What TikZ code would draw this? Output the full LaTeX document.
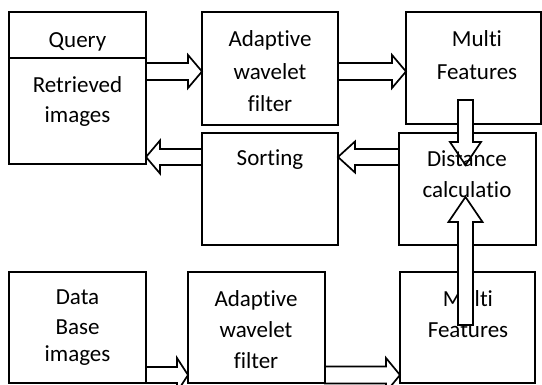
\documentclass[tikz,border=0pt]{standalone}
\usepackage{fontspec}
\setmainfont{Carlito}[Ligatures={NoCommon,NoRequired,NoContextual}]
\usetikzlibrary{calc}
\tikzset{
  box/.style={draw=black, fill=white, line width=1.7pt, rectangle, inner sep=0pt, outer sep=0pt, anchor=north west},
  txt/.style={anchor=base, inner sep=0pt, font=\fontsize{23pt}{28pt}\selectfont},
  arrowshape/.style={draw=black, fill=white, line width=1.7pt, line join=miter}
}
% #1 start, #2 tip, #3 shaft half width, #4 head half width, #5 head length
\newcommand\blockarr[5]{%
  \path coordinate (hb) at ($(#2)!#5!(#1)$);
  \draw[arrowshape] ($(#1)!#3!90:(#2)$) -- ($(hb)!#3!90:(#2)$) -- ($(hb)!#4!90:(#2)$) -- (#2)
    -- ($(hb)!#4!-90:(#2)$) -- ($(hb)!#3!-90:(#2)$) -- ($(#1)!#3!-90:(#2)$) -- cycle;
}
\begin{document}
\begin{tikzpicture}[x=1pt,y=-1pt]
\useasboundingbox (0,0) rectangle (542,385);
\clip (0,0) rectangle (542,385);
% boxes
\node[box, minimum width=137pt, minimum height=152pt] (q) at (9,12) {};
\node[box, minimum width=136pt, minimum height=113pt] (aw1) at (202,12) {};
\node[box, minimum width=135pt, minimum height=112pt] (mf1) at (406,12) {};
\node[box, minimum width=136pt, minimum height=112pt] (so) at (202,133) {};
\node[box, minimum width=137pt, minimum height=112pt] (dc) at (399,133) {};
\node[box, minimum width=137pt, minimum height=111pt] (db) at (9,272) {};
\node[box, minimum width=137pt, minimum height=111pt] (aw2) at (188,272) {};
\node[box, minimum width=135pt, minimum height=111pt] (mf2) at (400,272) {};
\coordinate (qdl) at (9,58);
\coordinate (qdr) at (146,58);
\draw[line width=1.7pt] (qdl) -- (qdr);
% texts
\node[txt] (t1) at (77.5,48) {Query};
\node[txt] (t2) at (77.5,93) {Retrieved};
\node[txt] (t3) at (77.5,123) {images};
\node[txt] (t4) at (270,47) {Adaptive};
\node[txt] (t5) at (270,80) {wavelet};
\node[txt] (t6) at (270,112) {filter};
\node[txt] (t7) at (477,47) {Multi};
\node[txt] (t8) at (477,80) {Features};
\node[txt] (t9) at (270,166) {Sorting};
\node[txt] (t13) at (77.5,305) {Data};
\node[txt] (t14) at (77.5,335) {Base};
\node[txt] (t15) at (77.5,362) {images};
\node[txt] (t16) at (256,307) {Adaptive};
\node[txt] (t17) at (256,338) {wavelet};
\node[txt] (t18) at (256,369) {filter};
\node[txt] (t19) at (468,307) {Multi};
\node[txt] (t20) at (468,338) {Features};
% arrow guides
\coordinate (y1) at (0,71.5);
\coordinate (y2) at (0,157);
\coordinate (y3) at (0,375);
\coordinate (a3s) at (465.5,100);
\coordinate (a3e) at (465.5,165);
\coordinate (a6s) at (465.5,325);
\coordinate (a6e) at (465.5,197);
\coordinate (a1s) at (q.east |- y1);
\coordinate (a1e) at (aw1.west |- y1);
\coordinate (a2s) at (aw1.east |- y1);
\coordinate (a2e) at (mf1.west |- y1);
\coordinate (a4s) at (dc.west |- y2);
\coordinate (a4e) at (so.east |- y2);
\coordinate (a5s) at (so.west |- y2);
\coordinate (a5e) at (q.east |- y2);
\coordinate (a7s) at (db.east |- y3);
\coordinate (a7e) at (aw2.west |- y3);
\coordinate (a8s) at (aw2.east |- y3);
\coordinate (a8e) at (mf2.west |- y3);
% arrows
\blockarr{a1s}{a1e}{8.5pt}{16.5pt}{14pt}
\blockarr{a2s}{a2e}{8.5pt}{16.5pt}{14pt}
\blockarr{a4s}{a4e}{8pt}{15.5pt}{17pt}
\blockarr{a5s}{a5e}{8pt}{16.5pt}{14pt}
\blockarr{a7s}{a7e}{8pt}{17pt}{11pt}
\blockarr{a8s}{a8e}{8.5pt}{17pt}{14pt}
\blockarr{a3s}{a3e}{7.5pt}{15.5pt}{23pt}
\node[txt] (t10) at (467,167) {Distance};
\node[txt] (t11) at (467,198) {calculatio};
\blockarr{a6s}{a6e}{7.5pt}{17pt}{25pt}
\end{tikzpicture}
\end{document}
